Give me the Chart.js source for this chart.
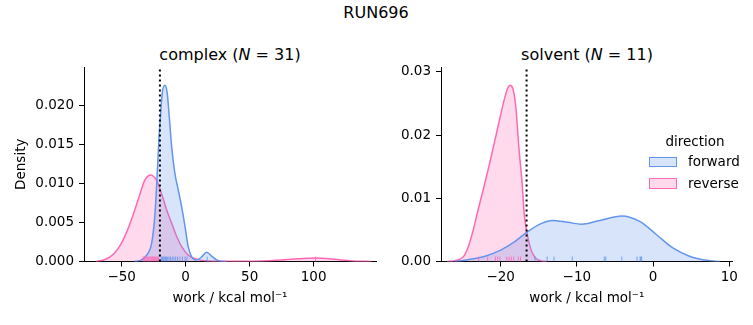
<!DOCTYPE html>
<html>
<head>
<meta charset="utf-8">
<script src="https://cdn.jsdelivr.net/npm/chart.js@4.4.1/dist/chart.umd.min.js"></script>
<style>
  body { margin: 0; width: 753px; height: 325px; background: #fff; position: relative; overflow: hidden;
         font-family: 'DejaVu Sans', sans-serif; color: #000; }
  .txt { position: absolute; white-space: nowrap; line-height: 16px; }
  .title { font-size: 16px; transform: translateX(-50%); }
  .small { font-size: 13.5px; }
  .panel { position: absolute; top: 0; height: 325px; }
  .patch { position: absolute; width: 28px; height: 10.5px; box-sizing: border-box; border-width: 1.5px; border-style: solid; }
</style>
</head>
<body>
<div class="txt title" style="left:376px; top:4.8px;">RUN696</div>
<div class="txt title" style="left:230px; top:46.5px;">complex (<i>N</i> = 31)</div>
<div class="txt title" style="left:587px; top:46.5px;">solvent (<i>N</i> = 11)</div>

<div class="panel" style="left:0; width:390px;"><canvas id="complex"></canvas></div>
<div class="panel" style="left:390px; width:363px;"><canvas id="solvent"></canvas></div>

<div id="legend"></div>

<script>
// hue order, as in the legend
const directions = ['forward', 'reverse'];

// kde curves, [work, density]
const complexForward = [
  [-40, 0], [-37, 0.00008], [-34.4, 0.0002], [-30.5, 0.0008], [-28, 0.0015], [-26.6, 0.0023],
  [-24.8, 0.0045], [-23.4, 0.0075], [-22.2, 0.0113], [-20.9, 0.0156], [-19.5, 0.019],
  [-18.3, 0.0216], [-16.2, 0.0226], [-14.4, 0.0216], [-12.8, 0.0186], [-10.9, 0.0147],
  [-8.4, 0.0113], [-5.8, 0.0092], [-3.1, 0.007], [-0.5, 0.0045], [2, 0.0019], [4.7, 0.0006],
  [8.6, 0.0002], [12.5, 0.0006], [16.4, 0.0012], [20.3, 0.0007], [24.2, 0.0002], [28, 0.00003], [32, 0]
];
const complexReverse = [
  [-70, 0], [-64, 0.0002], [-59, 0.0006], [-55, 0.0012], [-51, 0.0021], [-46, 0.0038], [-41, 0.006],
  [-36, 0.0085], [-32, 0.0104], [-29, 0.011], [-27, 0.0111], [-25, 0.0109], [-22.7, 0.0104],
  [-18.8, 0.0087], [-14.8, 0.0066], [-10.9, 0.0049], [-7, 0.0032], [-3.1, 0.0019], [2, 0.0008],
  [8.6, 0.0003], [15, 0.0001], [30, 0.00003], [50, 0.00003], [65, 0.0001], [80, 0.00025],
  [92, 0.0004], [101, 0.00045], [110, 0.0004], [120, 0.00022], [130, 0.00007], [145, 0]
];
const solventForward = [
  [-26, 0], [-24.8, 0.0002], [-22.15, 0.0008], [-20, 0.0018], [-18.2, 0.0031], [-16.5, 0.0047],
  [-14.7, 0.006], [-13.2, 0.0065], [-11.2, 0.0062], [-9.4, 0.0059], [-7.0, 0.0065], [-4.1, 0.0072],
  [-1.7, 0.0063], [0.5, 0.0042], [2.65, 0.0021], [4.85, 0.0008], [7.0, 0.0002], [8.8, 0]
];
const solventReverse = [
  [-27, 0], [-26.1, 0.0001], [-25.5, 0.0003], [-24.8, 0.0009], [-24.2, 0.0025], [-23.6, 0.005],
  [-23.0, 0.008], [-22.2, 0.0118], [-21.3, 0.0163], [-20.4, 0.0211], [-19.7, 0.0248],
  [-19.1, 0.0274], [-18.8, 0.0279], [-18.4, 0.0274], [-18.0, 0.0243], [-17.6, 0.0179],
  [-17.2, 0.0126], [-16.9, 0.0074], [-16.5, 0.0042], [-16.0, 0.0018], [-15.4, 0.0005],
  [-14.7, 0.0001], [-14, 0]
];

// individual work values (rug)
const complexRugForward = [-19.0, -18.2, -17.5, -16.7, -15.8, -15.0, -14.0, -13.0, -11.8, -10.5,
  -9.2, -7.8, -6.3, -4.5, -2.5, -0.5, 1.0, 16.8];
const complexRugReverse = [-33.2, -32.5, -31.8, -31.0, -30.2, -29.5, -28.7, -28.0, -27.2, -26.5,
  -25.7, -25.0, -24.2, -23.4, -22.6, -21.8, -21.1, 101.5];
const solventRugForward = [-15.5, -13.9, -13.0, -10.6, -6.4, -6.2, -4.1, -2.1, -1.7, -1.6, -1.5];
const solventRugReverse = [-22.9, -21.7, -20.7, -20.4, -20.1, -19.2, -18.9, -18.6, -18.3, -17.7, -17.4];

// dotted reference lines
const complexMark = -20.1;
const solventMark = -16.6;

// tick values
const complexXTicks = [-50, 0, 50, 100];
const complexYTicks = [0, 0.005, 0.01, 0.015, 0.02];
const solventXTicks = [-20, -10, 0, 10];
const solventYTicks = [0, 0.01, 0.02, 0.03];

const rgb = { forward: '100,149,237', reverse: '255,105,180' };

Chart.defaults.font.family = "'DejaVu Sans', sans-serif";
Chart.defaults.color = '#000';

function minus(v) {
  return v < 0 ? '\u2212' + Math.abs(v) : String(v);
}

function drawPanel(id, cfg) {
  const yMax = cfg.yMax;
  const datasets = [{
    data: [{x: cfg.mark, y: 0}, {x: cfg.mark, y: yMax}],
    borderColor: '#000', borderWidth: 2, borderDash: [2, 3],
    pointRadius: 0, fill: false, order: 0
  }];
  directions.forEach((d, i) => {
    datasets.push({
      data: cfg.rugs[i].map(v => ({x: v, y: yMax * 0.0125})),
      showLine: false, pointStyle: 'line', rotation: 90, pointRadius: 2.5,
      pointBorderWidth: 1, pointBorderColor: 'rgba(' + rgb[d] + ',0.85)',
      order: 1
    });
  });
  directions.forEach((d, i) => {
    datasets.push({
      label: d,
      data: cfg.curves[i].map(p => ({x: p[0], y: p[1]})),
      borderColor: 'rgb(' + rgb[d] + ')',
      backgroundColor: 'rgba(' + rgb[d] + ',0.25)',
      borderWidth: 1.5, pointRadius: 0, fill: 'origin',
      cubicInterpolationMode: 'monotone',
      order: 2 + i
    });
  });

  new Chart(document.getElementById(id), {
    type: 'line',
    data: { datasets },
    options: {
      responsive: true,
      maintainAspectRatio: false,
      animation: false,
      events: [],
      layout: { padding: cfg.padding },
      plugins: { legend: { display: false }, tooltip: { enabled: false } },
      scales: {
        x: {
          type: 'linear', min: cfg.xMin, max: cfg.xMax,
          afterFit: s => { s.height = 53.5; },
          afterBuildTicks: s => { s.ticks = cfg.xTicks.map(v => ({value: v})); },
          ticks: { callback: v => minus(v), font: { size: 13.5 }, padding: 3, maxRotation: 0, autoSkip: false },
          grid: { drawOnChartArea: false, drawTicks: true, tickLength: 5, color: '#000' },
          border: { color: '#000', width: 1 },
          title: { display: true, text: 'work / kcal mol\u207B\u00B9', font: { size: 13.5 }, padding: { top: 0, bottom: 8.4 } }
        },
        y: {
          min: 0, max: yMax,
          afterFit: s => { s.width = cfg.yWidth; },
          afterBuildTicks: s => { s.ticks = cfg.yTicks.map(v => ({value: v})); },
          ticks: { callback: v => v.toFixed(cfg.yDigits), font: { size: 13.5 }, padding: 5, autoSkip: false },
          grid: { drawOnChartArea: false, drawTicks: true, tickLength: 5, color: '#000' },
          border: { color: '#000', width: 1 },
          title: { display: cfg.yTitle, text: 'Density', font: { size: 13.5 }, padding: { top: 7.9, bottom: 0 } }
        }
      }
    }
  });
}

drawPanel('complex', {
  curves: [complexForward, complexReverse],
  rugs: [complexRugForward, complexRugReverse],
  mark: complexMark,
  xMin: -79.4, xMax: 148.7, yMax: 0.02494,
  xTicks: complexXTicks, yTicks: complexYTicks, yDigits: 3,
  yWidth: 79, yTitle: true,
  padding: { left: 5, right: 14, top: 67, bottom: 10 }
});

drawPanel('solvent', {
  curves: [solventForward, solventReverse],
  rugs: [solventRugForward, solventRugReverse],
  mark: solventMark,
  xMin: -27.83, xMax: 10.45, yMax: 0.03079,
  xTicks: solventXTicks, yTicks: solventYTicks, yDigits: 2,
  yWidth: 46, yTitle: false,
  padding: { left: 5, right: 20.3, top: 67, bottom: 10 }
});

// legend, built from the same series
const legend = document.getElementById('legend');
legend.innerHTML = '<div class="txt small" style="left:695px; top:133.3px; transform:translateX(-50%);">direction</div>';
directions.forEach((d, i) => {
  const top = 156.8 + i * 21.5;
  legend.innerHTML +=
    '<div class="patch" style="left:649px; top:' + top + 'px; border-color:rgb(' + rgb[d] +
    '); background:rgba(' + rgb[d] + ',0.25);"></div>' +
    '<div class="txt small" style="left:688px; top:' + (top - 3.5) + 'px;">' + d + '</div>';
});
</script>
</body>
</html>
